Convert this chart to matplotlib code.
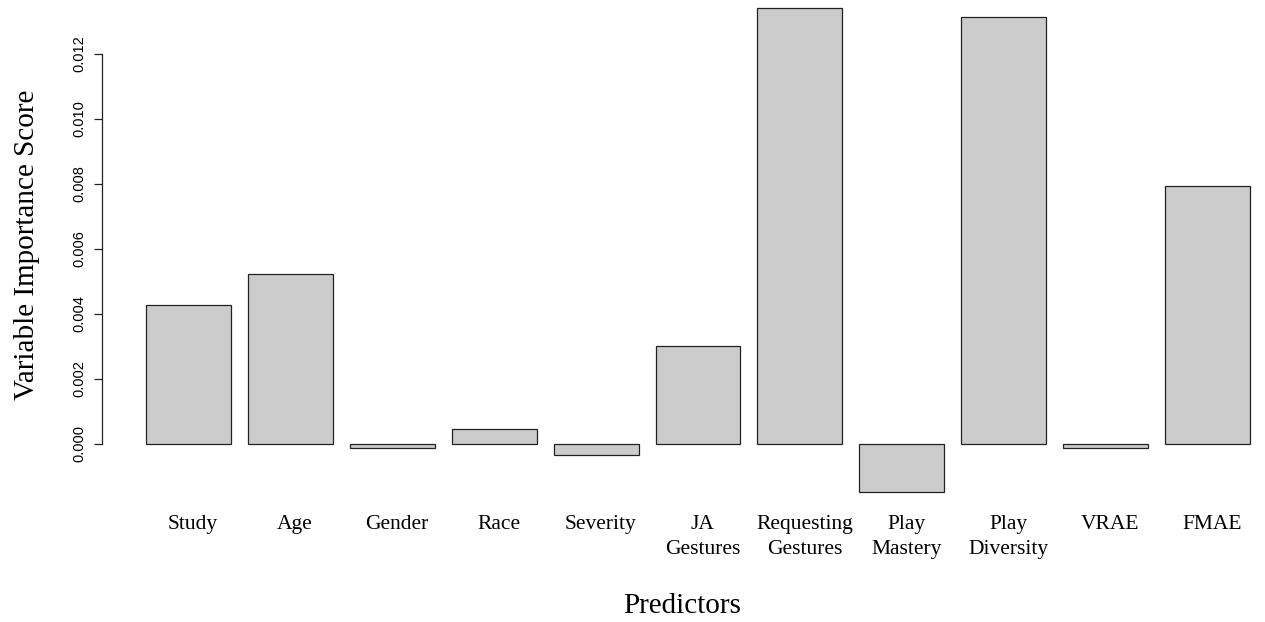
import matplotlib
matplotlib.use("Agg")
import matplotlib.pyplot as plt
from matplotlib.transforms import ScaledTranslation
import numpy as np

# variable importance scores
predictors = ["Study", "Age", "Gender", "Race", "Severity", "JA\nGestures",
              "Requesting\nGestures", "Play\nMastery", "Play\nDiversity", "VRAE", "FMAE"]
scores = [0.00428, 0.00523, -0.00013, 0.00045, -0.00034, 0.00302,
          0.01342, -0.00148, 0.01314, -0.00013, 0.00794]
yticks = [0.000, 0.002, 0.004, 0.006, 0.008, 0.010, 0.012]

W, H = 1265, 622


def main():
    fig = plt.figure(figsize=(W / 100, H / 100), dpi=100)

    # R barplot layout: width 1, space 0.2, 4% padding on y
    lo, hi = min(scores), max(scores)
    pad = 0.04 * (hi - lo)
    ylim = (lo - pad, hi + pad)
    px_per_y = 32.5 / 0.001
    bottom_px = 444 + (0 - ylim[0]) * px_per_y
    height_px = (ylim[1] - ylim[0]) * px_per_y

    ax = fig.add_axes([102 / W, (H - bottom_px) / H, (W - 102) / W, height_px / H])
    x = 0.7 + 1.2 * np.arange(len(scores))
    ax.bar(x, scores, width=1.0, color="#cccccc", edgecolor="#222222", linewidth=0.9)

    ax.set_ylim(*ylim)
    ax.set_xlim(-0.318, 13.377)

    for s in ["top", "right", "bottom"]:
        ax.spines[s].set_visible(False)
    ax.spines["left"].set_bounds(0, 0.012)
    ax.spines["left"].set_linewidth(0.9)
    ax.spines["left"].set_color("#222222")

    ax.set_yticks(yticks)
    ax.set_yticklabels(["%.3f" % v for v in yticks], rotation=90, va="center",
                       family="Liberation Sans", fontsize=10.5)
    ax.tick_params(axis="y", length=6, width=0.9, pad=5.5, color="#222222")

    ax.set_xticks(x)
    ax.set_xticklabels(predictors, family="Liberation Serif", fontsize=15.5,
                       linespacing=1.4)
    ax.tick_params(axis="x", length=0, pad=2.5)
    # labels sit a few pixels right of bar centres in the original
    shift = ScaledTranslation(4.5 / 100, 0, fig.dpi_scale_trans)
    for lab in ax.get_xticklabels():
        lab.set_transform(lab.get_transform() + shift)

    fig.text(682 / W, 1 - 606 / H, "Predictors", family="Liberation Serif",
             fontsize=21, ha="center", va="center")
    fig.text(27 / W, 1 - 245 / H, "Variable Importance Score", family="Liberation Serif",
             fontsize=21, ha="center", va="center", rotation=90)

    fig.savefig("out.png", dpi=100)


if __name__ == "__main__":
    main()
